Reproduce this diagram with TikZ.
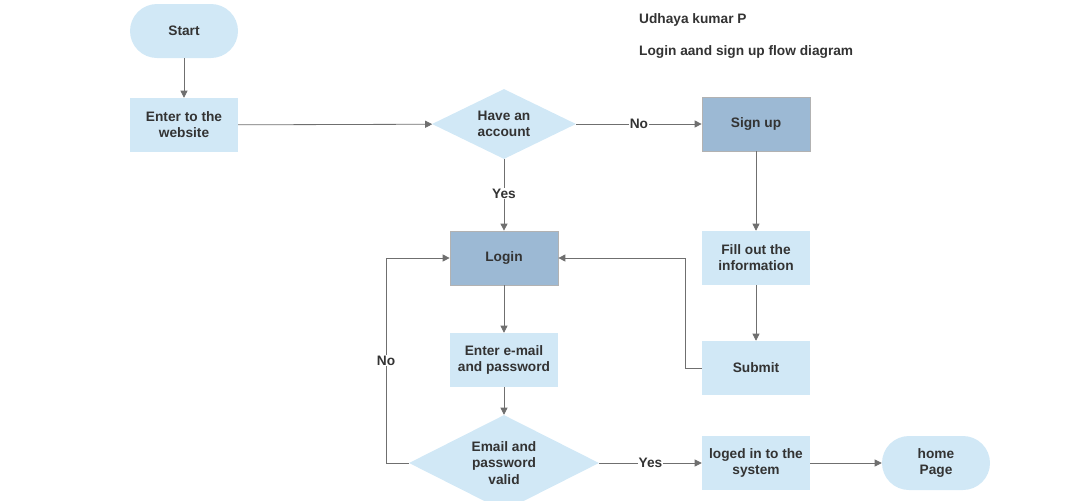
\documentclass[tikz,border=0pt]{standalone}
\usepackage{fontspec}
\setmainfont{Liberation Sans}
\usetikzlibrary{shapes.geometric, arrows.meta}
\definecolor{lightfill}{HTML}{D1E8F6}
\definecolor{darkfill}{HTML}{9CB9D4}
\definecolor{linegray}{HTML}{6F6F6F}
\definecolor{textgray}{HTML}{333333}
\begin{document}
\begin{tikzpicture}[x=0.03cm, y=-0.03cm,
  every node/.style={font=\fontsize{11.7}{13.8}\selectfont\bfseries, text=textgray, align=center},
  box/.style={shape=rectangle, fill=lightfill, minimum width=3.24cm, minimum height=1.62cm, inner sep=1pt},
  darkbox/.style={box, fill=darkfill, draw=gray!60, line width=0.6pt},
  pill/.style={box, rounded corners=0.81cm},
  choice/.style={shape=diamond, fill=lightfill, inner sep=0pt, shape aspect=2},
  arr/.style={-{Triangle[width=6pt, length=6pt]}, draw=linegray, line width=0.7pt},
  lbl/.style={fill=white, inner sep=1pt}]
\useasboundingbox (0, 0) rectangle (1088, 500);
\clip (0, 0) rectangle (1088, 500);
\node[pill] (Start) at (184, 31) {Start};
\node[box] (Web) at (184, 125) {Enter to the\\website};
\node[choice, minimum width=4.32cm, minimum height=2.1cm] (Acc) at (504, 124) {Have an\\account};
\node[darkbox] (Sign) at (756, 124) {Sign up};
\node[darkbox] (Login) at (504, 258) {Login};
\node[box] (Fill) at (756, 258) {Fill out the\\information};
\node[box] (Submit) at (756, 368) {Submit};
\node[box] (Mail) at (504, 360) {Enter e-mail\\and password};
\node[choice, minimum width=5.7cm, minimum height=2.88cm] (Valid) at (504, 463) {Email and\\password\\valid};
\node[box] (Logged) at (756, 463) {loged in to the\\system};
\node[pill] (Home) at (936, 463) {home\\Page};
\node[anchor=west] (Author) at (635, 20) {Udhaya kumar P};
\node[anchor=west] (Title) at (635, 52) {Login aand sign up flow diagram};
\coordinate (C1) at (685, 368);
\coordinate (C2) at (685, 258);
\coordinate (C3) at (386, 463);
\coordinate (C4) at (386, 258);
\draw[arr] (Start) -- (Web);
\draw[arr] (Web) -- (Acc);
\draw[arr] (Acc) -- node[lbl] {No} (Sign);
\draw[arr] (Acc) -- node[lbl, pos=0.48] {Yes} (Login);
\draw[arr] (Sign) -- (Fill);
\draw[arr] (Fill) -- (Submit);
\draw[arr] (Submit) -- (C1) -- (C2) -- (Login);
\draw[arr] (Login) -- (Mail);
\draw[arr] (Mail) -- (Valid);
\draw[arr] (Valid) -- (C3) -- node[lbl, pos=0.5] {No} (C4) -- (Login);
\draw[arr] (Valid) -- node[lbl] {Yes} (Logged);
\draw[arr] (Logged) -- (Home);
\end{tikzpicture}
\end{document}
